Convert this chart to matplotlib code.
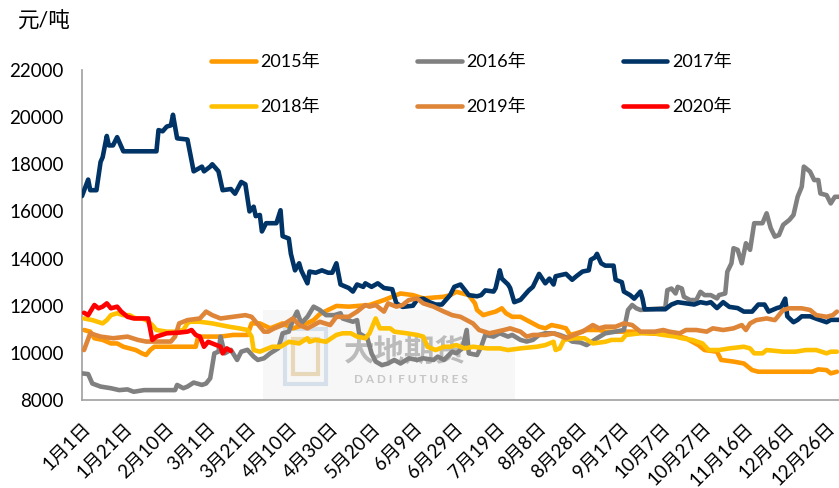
import matplotlib
matplotlib.use('Agg')
import matplotlib.pyplot as plt
from matplotlib.patches import Rectangle

plt.rcParams['font.family'] = ['Lato', 'Noto Sans CJK SC', 'DejaVu Sans']

# day of year (0 = 1月1日) and price in 元/吨 for each season
days_2015 = [1, 4, 6, 10, 14, 17, 20, 23, 26, 29, 31, 33, 35, 55, 56, 57, 67, 73, 80, 82, 86, 91, 97, 102,
             107, 112, 115, 123, 129, 139, 146, 150, 154, 160, 165, 175, 178, 181, 184, 187, 190, 191, 194,
             197, 200, 203, 205, 208, 212, 215, 218, 221, 224, 227, 231, 234, 236, 239, 244, 250, 253, 260,
             266, 274, 286, 292, 298, 301, 307, 309, 315, 320, 324, 327, 353, 356, 360, 362, 365]
vals_2015 = [10970, 10900, 10620, 10550, 10400, 10400, 10260, 10190, 10120, 9980, 9910, 10120, 10260, 10260,
             10620, 10690, 10690, 10760, 10760, 11250, 11250, 11040, 11250, 11040, 11180, 11390, 11650, 11990,
             11960, 12030, 12240, 12380, 12520, 12450, 12310, 12380, 12450, 12590, 12520, 12450, 12100, 11820,
             11600, 11680, 11750, 11890, 11680, 11530, 11530, 11390, 11250, 11110, 11040, 11180, 11110, 11040,
             10760, 10830, 10970, 10970, 10900, 10900, 10900, 10830, 10760, 10620, 10330, 10120, 10050, 9700,
             9630, 9550, 9270, 9200, 9200, 9300, 9270, 9130, 9200]

days_2016 = [0, 3, 5, 9, 14, 18, 22, 25, 30, 45, 46, 49, 51, 54, 58, 60, 62, 64, 66, 67, 69, 72, 75, 77, 80,
             83, 85, 88, 91, 95, 97, 100, 102, 104, 106, 109, 112, 115, 118, 122, 125, 126, 131, 133, 134, 138,
             140, 142, 145, 148, 151, 154, 158, 162, 165, 170, 172, 175, 179, 181, 184, 186, 187, 191, 193, 195,
             199, 202, 206, 208, 212, 215, 218, 221, 224, 228, 231, 234, 237, 241, 244, 249, 253, 258, 262, 264,
             266, 268, 270, 282, 283, 285, 287, 288, 290, 291, 294, 297, 299, 301, 304, 307, 308, 311, 312, 314,
             315, 317, 319, 321, 323, 325, 329, 331, 333, 335, 337, 339, 342, 344, 346, 348, 349, 351, 352, 354,
             356, 357, 360, 362, 364, 366]
vals_2016 = [9130, 9100, 8700, 8570, 8500, 8420, 8450, 8350, 8420, 8420, 8640, 8500, 8570, 8740, 8640, 8700,
             8920, 9980, 10050, 10690, 9980, 10130, 9700, 10050, 10130, 9840, 9700, 9770, 9980, 10200, 10830,
             10900, 11390, 11750, 11250, 11530, 11960, 11820, 11600, 11600, 11680, 11460, 11320, 11390, 10830,
             10620, 9980, 9630, 9480, 9550, 9700, 9550, 9770, 9700, 9770, 9700, 9840, 9700, 10050, 9980, 10200,
             10970, 9980, 9910, 10260, 10760, 10690, 10830, 10690, 10760, 10550, 10480, 10550, 10760, 10830,
             10830, 10760, 10660, 10480, 10440, 10330, 10620, 10830, 10900, 10970, 11820, 12030, 11890, 11820,
             11900, 12660, 12730, 12520, 12800, 12730, 12380, 12240, 12240, 12590, 12450, 12450, 12310, 12450,
             12520, 13440, 13800, 14440, 14370, 13800, 14650, 14370, 15500, 15500, 15920, 15290, 14930, 15000,
             15430, 15640, 15850, 16620, 17050, 17900, 17760, 17690, 17330, 17330, 16760, 16690, 16340, 16620,
             16620]

days_2017 = [0, 3, 4, 7, 9, 10, 12, 13, 15, 17, 20, 36, 37, 39, 41, 43, 44, 46, 51, 54, 58, 59, 62, 63, 66,
             68, 72, 74, 77, 79, 81, 83, 84, 86, 87, 89, 94, 96, 97, 100, 101, 103, 105, 106, 109, 110, 113, 116,
             119, 121, 123, 125, 129, 131, 133, 136, 137, 140, 143, 146, 150, 152, 155, 160, 162, 165, 168, 171,
             174, 178, 180, 183, 187, 191, 193, 195, 199, 200, 202, 203, 206, 207, 209, 212, 216, 218, 221, 224,
             226, 228, 229, 234, 237, 239, 242, 245, 246, 248, 249, 251, 253, 257, 258, 261, 262, 265, 267, 270,
             271, 272, 282, 285, 288, 292, 296, 299, 302, 304, 307, 310, 313, 317, 320, 324, 327, 330, 332, 336,
             338, 340, 341, 344, 346, 348, 352, 355, 360, 362, 366]
vals_2017 = [16650, 17350, 16900, 16900, 18100, 18300, 19200, 18800, 18800, 19150, 18550, 18550, 19450, 19400,
             19600, 19650, 20100, 19100, 19050, 17700, 17900, 17700, 17900, 18000, 17700, 16900, 16950, 16750,
             17250, 17150, 16000, 16200, 15800, 15850, 15150, 15500, 15500, 16050, 14950, 14850, 14200, 13500,
             13800, 13500, 12950, 13450, 13400, 13500, 13400, 13400, 13800, 12900, 12750, 12600, 12900, 12800,
             12950, 12800, 12950, 12750, 12700, 12100, 11950, 12000, 12250, 12300, 12150, 12050, 12050, 12450,
             12800, 12900, 12450, 12400, 12450, 12650, 12600, 12750, 13500, 13150, 12900, 12750, 12150, 12250,
             12650, 12800, 13350, 12950, 13150, 12900, 13250, 13350, 13100, 13250, 13450, 13500, 13950, 14050,
             14200, 13800, 13700, 13700, 13100, 13000, 12600, 12450, 12300, 12600, 12300, 11850, 11850, 12050,
             12150, 12100, 12050, 12150, 12100, 12150, 11900, 12150, 11950, 11900, 11750, 11750, 12050, 12050,
             11750, 11900, 11950, 12300, 11550, 11300, 11400, 11550, 11550, 11450, 11300, 11400, 11400]

days_2018 = [1, 5, 10, 12, 14, 17, 20, 23, 26, 29, 31, 34, 36, 41, 45, 49, 51, 52, 57, 63, 67, 71, 76, 80, 82,
             83, 86, 88, 92, 96, 100, 105, 109, 110, 113, 118, 123, 126, 130, 133, 137, 139, 142, 144, 149, 151,
             157, 162, 165, 167, 171, 175, 178, 181, 185, 189, 196, 202, 206, 212, 220, 224, 228, 229, 231, 233,
             238, 243, 247, 253, 256, 261, 263, 270, 277, 281, 287, 290, 295, 300, 303, 308, 313, 320, 323, 325,
             329, 331, 339, 345, 350, 355, 360, 362, 365]
vals_2018 = [11460, 11390, 11250, 11390, 11600, 11680, 11600, 11600, 11460, 11460, 11390, 11180, 10970, 10900,
             10900, 10970, 11250, 11320, 11320, 11250, 11180, 11110, 11040, 10970, 10690, 10120, 10050, 10120,
             10260, 10260, 10470, 10400, 10620, 10470, 10550, 10470, 10760, 10830, 10830, 10690, 10620, 10830,
             11460, 11040, 11040, 10900, 10830, 10760, 10690, 10260, 10120, 10260, 10260, 10330, 10190, 10260,
             10190, 10190, 10120, 10190, 10260, 10330, 10470, 10120, 10190, 10550, 10620, 10620, 10400, 10470,
             10550, 10550, 10760, 10830, 10830, 10760, 10690, 10620, 10550, 10400, 10120, 10120, 10190, 10260,
             10190, 9980, 9980, 10120, 10050, 10050, 10120, 10120, 9980, 10050, 10050]

days_2019 = [1, 4, 9, 15, 22, 27, 31, 43, 45, 47, 51, 57, 60, 63, 67, 73, 79, 82, 84, 88, 90, 93, 97, 102, 105,
             109, 115, 120, 123, 129, 133, 137, 139, 142, 146, 148, 152, 155, 158, 162, 165, 170, 175, 179, 183,
             189, 192, 197, 204, 207, 212, 215, 218, 224, 228, 234, 238, 242, 247, 250, 253, 258, 262, 266, 270,
             277, 281, 284, 289, 292, 297, 302, 305, 310, 315, 319, 321, 323, 326, 331, 335, 339, 342, 348, 352,
             355, 360, 363, 365]
vals_2019 = [10120, 10830, 10690, 10620, 10690, 10550, 10480, 10480, 10690, 11250, 11390, 11460, 11750, 11600,
             11460, 11530, 11600, 11530, 11320, 10900, 10900, 11040, 11180, 11460, 11180, 11040, 11320, 11180,
             11530, 11530, 11750, 12030, 11960, 12030, 11750, 12100, 11960, 12030, 12240, 12310, 12100, 11960,
             11750, 11600, 11530, 11250, 10970, 10830, 10970, 11040, 10900, 10690, 10760, 10760, 10830, 10620,
             10760, 10900, 11180, 11040, 11110, 11110, 11250, 11180, 10900, 10900, 10970, 10900, 10830, 10970,
             10970, 10900, 11040, 10970, 11040, 11180, 10970, 11250, 11390, 11460, 11390, 11820, 11890, 11890,
             11820, 11600, 11530, 11600, 11750]

days_2020 = [1, 3, 5, 6, 8, 10, 12, 14, 17, 19, 22, 25, 32, 34, 36, 41, 47, 51, 53, 55, 57, 59, 61, 63, 65,
             67, 68, 70, 72]
vals_2020 = [11700, 11600, 11890, 12030, 11890, 11960, 12100, 11890, 11960, 11750, 11530, 11460, 11460, 10550,
             10690, 10830, 10860, 10900, 10970, 10760, 10690, 10260, 10470, 10400, 10330, 10260, 9980, 10190,
             10080]

series = [
    ('2015年', days_2015, vals_2015, '#FF9900'),
    ('2016年', days_2016, vals_2016, '#808080'),
    ('2017年', days_2017, vals_2017, '#003366'),
    ('2018年', days_2018, vals_2018, '#FFC000'),
    ('2019年', days_2019, vals_2019, '#DE8538'),
    ('2020年', days_2020, vals_2020, '#FF0000'),
]

tick_days = list(range(0, 361, 20))
tick_labels = ['1月1日', '1月21日', '2月10日', '3月1日', '3月21日', '4月10日', '4月30日', '5月20日',
               '6月9日', '6月29日', '7月19日', '8月8日', '8月28日', '9月17日', '10月7日', '10月27日',
               '11月16日', '12月6日', '12月26日']

fig = plt.figure(figsize=(8.39, 4.88), dpi=100)
ax = fig.add_axes([0.0977, 0.1803, 0.9023, 0.6763])

# faint company watermark behind the lines
ax.add_patch(Rectangle((87.5, 8000), 122, 3800, facecolor='#F7F7F7', edgecolor='none', zorder=0))
ax.text(156, 10030, '大地期货', fontsize=22, color='#BBBBBB', fontweight='bold',
        family=['Noto Sans CJK SC'], ha='center', va='center', zorder=1)
ax.text(159, 8890, 'D A D I  F U T U R E S', fontsize=8.5, color='#C6C6C6', fontweight='bold',
        ha='center', va='center', zorder=1)
ax.add_patch(Rectangle((98, 8700), 20, 2300, facecolor='none', edgecolor='#D6E0EA', lw=3, zorder=1))
ax.add_patch(Rectangle((102, 9100), 12, 1500, facecolor='none', edgecolor='#E6D8B8', lw=3, zorder=1))

handles = {}
for i, (name, d, v, c) in enumerate(series):
    line, = ax.plot(d, v, color=c, lw=3.3, label=name, zorder=2 + i,
                    solid_joinstyle='round', solid_capstyle='round')
    handles[name] = line

ax.set_xlim(0, 366)
ax.set_ylim(8000, 22000)
ax.set_yticks(range(8000, 22001, 2000))
ax.set_xticks(tick_days)
ax.set_xticklabels(tick_labels, rotation=45, ha='right', va='top', rotation_mode='anchor')
ax.tick_params(axis='both', length=0)
ax.tick_params(axis='y', pad=13, labelsize=13.5)
ax.tick_params(axis='x', pad=14, labelsize=13.5)

for side in ['top', 'right']:
    ax.spines[side].set_visible(False)
for side in ['left', 'bottom']:
    ax.spines[side].set_color('#A0A0A0')
    ax.spines[side].set_linewidth(1.2)

fig.text(0.021, 0.955, '元/吨', fontsize=15.5, ha='left', va='center')

order = ['2015年', '2018年', '2016年', '2019年', '2017年', '2020年']
leg = ax.legend([handles[k] for k in order], order, ncol=3, loc='upper left',
                bbox_to_anchor=(0.252, 0.89), bbox_transform=fig.transFigure,
                frameon=False, fontsize=13, handlelength=2.45, handletextpad=0.25,
                columnspacing=5.4, labelspacing=1.6, borderpad=0, borderaxespad=0)

fig.savefig('out.png', dpi=100)
